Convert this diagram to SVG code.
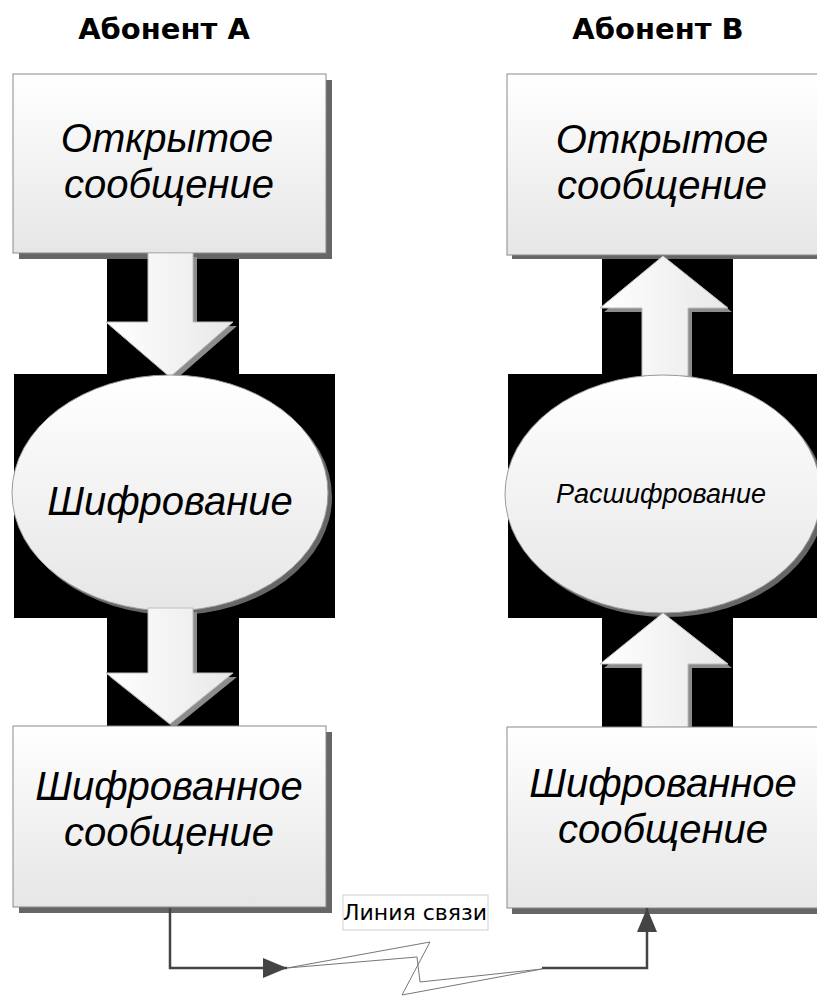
<svg xmlns="http://www.w3.org/2000/svg" width="817" height="996" viewBox="0 0 817 996">
<defs>
  <linearGradient id="gBox" x1="0" y1="0" x2="0" y2="1">
    <stop offset="0" stop-color="#ffffff"/>
    <stop offset="1" stop-color="#e6e6e6"/>
  </linearGradient>
  <linearGradient id="gArrow" x1="0" y1="0" x2="1" y2="0">
    <stop offset="0" stop-color="#ffffff"/>
    <stop offset="1" stop-color="#e8e8e8"/>
  </linearGradient>
  <marker id="ahL" viewBox="0 0 24 20" refX="24" refY="10" markerWidth="24" markerHeight="20" markerUnits="userSpaceOnUse" orient="auto">
    <path d="M0,0 L24,10 L0,20 Z" fill="#444"/>
  </marker>
</defs>
<style>
  .box { fill: url(#gBox); stroke: #8a8a8a; stroke-width: 1; }
  .shadow { fill: #666; }
  .ell { fill: url(#gBox); stroke: #9a9a9a; stroke-width: 1; }
  .arr { fill: url(#gArrow); stroke: #bdbdbd; stroke-width: 1; }
  .ashadow { fill: #8c8c8c; }
  .blk { fill: #000; }
  .title { font-family: "DejaVu Sans", "Liberation Sans", sans-serif; font-weight: bold; font-size: 29px; fill: #000; text-anchor: middle; }
  .lbl { font-family: "Liberation Sans", Arial, sans-serif; font-style: italic; font-size: 40px; fill: #000; text-anchor: middle; }
  .lblE { font-family: "Liberation Sans", Arial, sans-serif; font-style: italic; font-size: 40px; fill: #000; text-anchor: middle; }
  .lblS { font-family: "Liberation Sans", Arial, sans-serif; font-style: italic; font-size: 27px; fill: #000; text-anchor: middle; }
  .conn { fill: none; stroke: #444; stroke-width: 2.5; }
  .line-lbl { font-family: "DejaVu Sans", "Liberation Sans", sans-serif; font-size: 22px; fill: #000; text-anchor: middle; }
</style>

<rect width="817" height="996" fill="#fff"/>

<g id="background-blocks">
  <rect class="blk" x="107" y="250" width="132" height="130"/>
  <rect class="blk" x="14" y="374" width="321" height="244"/>
  <rect class="blk" x="107" y="612" width="132" height="115"/>
  <rect class="blk" x="602" y="250" width="131" height="130"/>
  <rect class="blk" x="508" y="374" width="309" height="244"/>
  <rect class="blk" x="602" y="612" width="131" height="115"/>
</g>

<g id="title-a"><text class="title" x="164" y="39">Абонент А</text></g>
<g id="title-b"><text class="title" x="658" y="39">Абонент В</text></g>

<g id="box-a-open">
  <rect class="shadow" x="19" y="80" width="313" height="179"/>
  <rect class="box" x="13" y="74" width="313" height="179"/>
  <text class="lbl" x="167" y="152">Открытое</text>
  <text class="lbl" x="169" y="198">сообщение</text>
</g>

<g id="box-b-open">
  <rect class="shadow" x="512" y="80" width="313" height="179"/>
  <rect class="box" x="507" y="74" width="313" height="181"/>
  <text class="lbl" x="662" y="153">Открытое</text>
  <text class="lbl" x="662" y="199">сообщение</text>
</g>

<g id="arrow-a1">
  <path class="ashadow" d="M152,257 L197,257 L197,326 L237,326 L174,381 L110,326 L152,326 Z"/>
  <path class="arr" d="M148,253 L193,253 L193,322 L233,322 L170,377 L106,322 L148,322 Z"/>
</g>

<g id="arrow-b1">
  <path class="ashadow" d="M667,260 L732,312 L692,312 L692,380 L646,380 L646,312 L604,312 Z"/>
  <path class="arr" d="M663,256 L728,308 L688,308 L688,376 L642,376 L642,308 L600,308 Z"/>
</g>

<g id="ellipse-a">
  <ellipse class="shadow" cx="174" cy="497" rx="158" ry="118"/>
  <ellipse class="ell" cx="170" cy="493" rx="158" ry="118"/>
  <text class="lblE" x="170" y="515">Шифрование</text>
</g>

<g id="ellipse-b">
  <ellipse class="shadow" cx="667" cy="498" rx="158" ry="119"/>
  <ellipse class="ell" cx="663" cy="494" rx="158" ry="119"/>
  <text class="lblS" x="661" y="503">Расшифрование</text>
</g>

<g id="arrow-a2">
  <path class="ashadow" d="M152,612 L197,612 L197,677 L237,677 L174,728 L110,677 L152,677 Z"/>
  <path class="arr" d="M148,608 L193,608 L193,673 L233,673 L170,724 L106,673 L148,673 Z"/>
</g>

<g id="arrow-b2">
  <path class="ashadow" d="M667,617 L732,668 L692,668 L692,734 L646,734 L646,668 L604,668 Z"/>
  <path class="arr" d="M663,613 L728,664 L688,664 L688,730 L642,730 L642,664 L600,664 Z"/>
</g>

<g id="box-a-cipher">
  <rect class="shadow" x="19" y="732" width="313" height="181"/>
  <rect class="box" x="13" y="726" width="313" height="181"/>
  <text class="lbl" x="169" y="800">Шифрованное</text>
  <text class="lbl" x="169" y="846">сообщение</text>
</g>

<g id="box-b-cipher">
  <rect class="shadow" x="512" y="733" width="313" height="181"/>
  <rect class="box" x="507" y="727" width="313" height="181"/>
  <text class="lbl" x="663" y="797">Шифрованное</text>
  <text class="lbl" x="663" y="843">сообщение</text>
</g>

<g id="connectors">
  <path class="conn" d="M170,908 L170,968 L287,968" marker-end="url(#ahL)"/>
  <polygon points="287,968 430,942 402,995 542,969 420,982 417,957" fill="#fff" stroke="#777" stroke-width="1"/>
  <path class="conn" d="M542,968 L647,968 L647,908" marker-end="url(#ahL)"/>
</g>

<g id="line-label">
  <rect x="343" y="895" width="145" height="35" fill="#fff" stroke="#d0d0d0" stroke-width="1"/>
  <text class="line-lbl" x="415" y="920">Линия связи</text>
</g>
</svg>
